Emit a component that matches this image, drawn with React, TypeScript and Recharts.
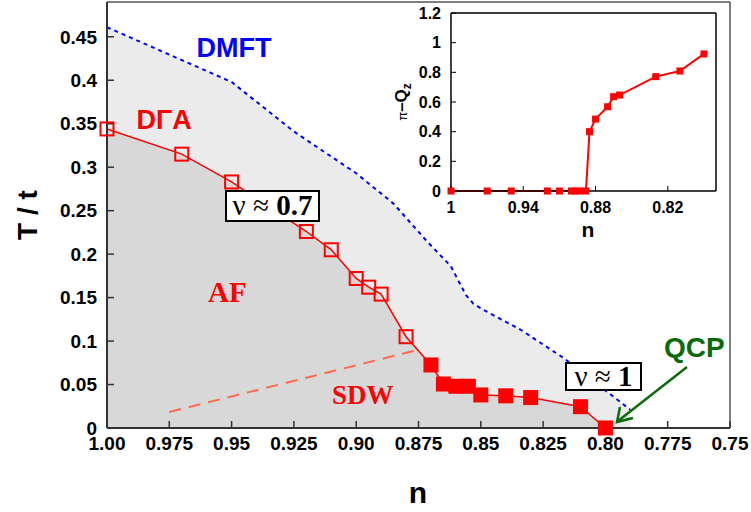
import { Area, CartesianGrid, ComposedChart, Line, LineChart, ReferenceLine, XAxis, YAxis } from "recharts"

const SANS = "'Liberation Sans', Arial, Helvetica, sans-serif"
const SERIF = "'Liberation Serif', 'Times New Roman', serif"

// main panel axes
const xTicks = [1, 0.975, 0.95, 0.925, 0.9, 0.875, 0.85, 0.825, 0.8, 0.775, 0.75]
const xTickLabels = ["1.00", "0.975", "0.95", "0.925", "0.90", "0.875", "0.85", "0.825", "0.80", "0.775", "0.75"]
const yTicks = [0, 0.05, 0.1, 0.15, 0.2, 0.25, 0.3, 0.35, 0.4, 0.45]
const yTickLabels = ["0", "0.05", "0.1", "0.15", "0.2", "0.25", "0.3", "0.35", "0.4", "0.45"]

// DMFT transition line
const dmftN = [1.0, 0.95, 0.925, 0.9, 0.885, 0.872, 0.862, 0.856, 0.853, 0.849, 0.834, 0.8165, 0.79]
const dmftT = [0.461, 0.398, 0.341, 0.293, 0.258, 0.216, 0.186, 0.153, 0.143, 0.136, 0.113, 0.08, 0.021]

// DGA transition line: AF points (open) and SDW points (filled)
const afN = [1.0, 0.97, 0.95, 0.92, 0.91, 0.9, 0.895, 0.89, 0.88]
const afT = [0.344, 0.315, 0.283, 0.226, 0.205, 0.172, 0.162, 0.154, 0.105]
const sdwN = [0.87, 0.865, 0.86, 0.855, 0.85, 0.84, 0.83, 0.81, 0.8]
const sdwT = [0.0725, 0.0506, 0.048, 0.048, 0.038, 0.037, 0.035, 0.0245, 0]

// AF / SDW crossover
const crossN = [0.975, 0.875]
const crossT = [0.0184, 0.09]

// inset: pi - Q_z vs n
const insetN = [1.0, 0.97, 0.95, 0.92, 0.91, 0.9, 0.897, 0.893, 0.888, 0.885, 0.88, 0.87, 0.865, 0.86, 0.83, 0.81, 0.79]
const insetQ = [0, 0, 0, 0, 0, 0, 0, 0, 0, 0.4, 0.485, 0.568, 0.636, 0.647, 0.771, 0.809, 0.924]
const insetXTicks = [1, 0.94, 0.88, 0.82]
const insetXLabels = ["1", "0.94", "0.88", "0.82"]
const insetYTicks = [0, 0.2, 0.4, 0.6, 0.8, 1, 1.2]
const insetYLabels = ["0", "0.2", "0.4", "0.6", "0.8", "1", "1.2"]

const pts = (ns: number[], vs: number[], key = "T") => ns.map((n, i) => ({ n, [key]: vs[i] }))

const dmftData = pts(dmftN, dmftT)
const afData = pts(afN, afT)
const sdwData = pts(sdwN, sdwT)
const dgaData = [...afData, ...sdwData]
const crossData = pts(crossN, crossT)
const insetData = pts(insetN, insetQ, "q")

const RED = "#ff0000"
const GREEN = "#0b6b0b"

const openSquare = (p: any) => (
  <rect key={`o${p.index}`} x={p.cx - 6.5} y={p.cy - 6.5} width={13} height={13} fill="none" stroke={RED} strokeWidth={2} />
)
const filledSquare = (p: any) => (
  <rect key={`f${p.index}`} x={p.cx - 7.5} y={p.cy - 7.5} width={15} height={15} fill={RED} />
)
const smallSquare = (p: any) => (
  <rect key={`s${p.index}`} x={p.cx - 3.5} y={p.cy - 3.5} width={7} height={7} fill={RED} />
)

const tickStyle = (size: number) => ({ fill: "#000", fontSize: size, fontWeight: 700, fontFamily: SANS })

function MainChart() {
  return (
    <ComposedChart width={751} height={512} margin={{ top: 2, right: 21, left: 0, bottom: 0 }}>
      <XAxis
        dataKey="n"
        type="number"
        domain={[0.75, 1]}
        reversed
        ticks={xTicks}
        interval={0}
        tickFormatter={(v) => xTickLabels[xTicks.indexOf(v)]}
        height={84}
        tickSize={-7}
        tickMargin={16}
        axisLine={{ stroke: "#333", strokeWidth: 2 }}
        tickLine={{ stroke: "#333", strokeWidth: 1.5 }}
        tick={tickStyle(19)}
      />
      <YAxis
        type="number"
        domain={[0, 0.49]}
        ticks={yTicks}
        interval={0}
        tickFormatter={(v) => yTickLabels[yTicks.indexOf(v)]}
        width={107}
        tickSize={-7}
        tickMargin={17}
        axisLine={{ stroke: "#333", strokeWidth: 2 }}
        tickLine={{ stroke: "#333", strokeWidth: 1.5 }}
        tick={tickStyle(19)}
      />
      <Area data={dmftData} dataKey="T" type="linear" fill="#ebebeb" fillOpacity={1} stroke="none" isAnimationActive={false} />
      <Area data={dgaData} dataKey="T" type="linear" fill="#d8d8d8" fillOpacity={1} stroke="none" isAnimationActive={false} />
      <ReferenceLine y={0.49} stroke="#000" strokeWidth={1} />
      <ReferenceLine x={0.75} stroke="#000" strokeWidth={1} />
      <Line data={crossData} dataKey="T" type="linear" stroke="#ff6a50" strokeWidth={2} strokeDasharray="12 8" dot={false} isAnimationActive={false} />
      <Line data={dmftData} dataKey="T" type="linear" stroke="#0000ff" strokeWidth={2} strokeDasharray="4 4" dot={false} isAnimationActive={false} />
      <Line data={dgaData} dataKey="T" type="linear" stroke={RED} strokeWidth={1.5} dot={false} isAnimationActive={false} />
      <Line data={afData} dataKey="T" stroke="none" dot={openSquare} activeDot={false} isAnimationActive={false} />
      <Line data={sdwData} dataKey="T" stroke="none" dot={filledSquare} activeDot={false} isAnimationActive={false} />
    </ComposedChart>
  )
}

function InsetChart() {
  return (
    <LineChart width={345} height={245} margin={{ top: 13, right: 9, left: 0, bottom: 0 }}>
      <CartesianGrid horizontal={false} vertical={false} fill="#fff" />
      <XAxis
        dataKey="n"
        type="number"
        domain={[0.78, 1]}
        reversed
        ticks={insetXTicks}
        interval={0}
        tickFormatter={(v) => insetXLabels[insetXTicks.indexOf(v)]}
        height={54}
        tickSize={-5}
        tickMargin={16}
        axisLine={{ stroke: "#000", strokeWidth: 1.5 }}
        tickLine={{ stroke: "#000" }}
        tick={tickStyle(16)}
      />
      <YAxis
        type="number"
        domain={[0, 1.2]}
        ticks={insetYTicks}
        interval={0}
        tickFormatter={(v) => insetYLabels[insetYTicks.indexOf(v)]}
        width={71}
        tickSize={-5}
        tickMargin={15}
        axisLine={{ stroke: "#000", strokeWidth: 1.5 }}
        tickLine={{ stroke: "#000" }}
        tick={tickStyle(16)}
      />
      <ReferenceLine y={1.2} stroke="#000" strokeWidth={1.5} />
      <ReferenceLine x={0.78} stroke="#000" strokeWidth={1.5} />
      <Line data={insetData} dataKey="q" type="linear" stroke={RED} strokeWidth={2} dot={smallSquare} activeDot={false} isAnimationActive={false} />
    </LineChart>
  )
}

function Annotations() {
  return (
    <svg width={751} height={512} style={{ position: "absolute", left: 0, top: 0, pointerEvents: "none" }}>
      <text x={196.5} y={57} fontFamily={SANS} fontWeight={700} fontSize={27} fill="#0000ff">DMFT</text>
      <text x={136.5} y={129} fontFamily={SANS} fontWeight={700} fontSize={27} fill={RED}>DΓA</text>
      <text x={208} y={302} fontFamily={SERIF} fontWeight={700} fontSize={29} fill={RED}>AF</text>
      <text x={332} y={404} fontFamily={SERIF} fontWeight={700} fontSize={27} fill={RED}>SDW</text>

      <rect x={226} y={191} width={93} height={30} fill="#fff" stroke="#000" strokeWidth={2} />
      <text x={272.5} y={215} textAnchor="middle" fontFamily={SERIF} fontSize={29} fill="#000">
        ν ≈ <tspan fontWeight={700}>0.7</tspan>
      </text>
      <rect x={566} y={363} width={75} height={27} fill="#fff" stroke="#000" strokeWidth={2} />
      <text x={603.5} y={386} textAnchor="middle" fontFamily={SERIF} fontSize={29} fill="#000">
        ν ≈ <tspan fontWeight={700}>1</tspan>
      </text>

      <text x={664} y={357} fontFamily={SANS} fontWeight={700} fontSize={28} fill={GREEN}>QCP</text>
      <line x1={687} y1={367} x2={618} y2={421} stroke={GREEN} strokeWidth={2.5} />
      <polyline points="620,407 617,422 633,418" fill="none" stroke={GREEN} strokeWidth={2.5} />

      <text transform="translate(37,215) rotate(-90)" textAnchor="middle" fontFamily={SANS} fontWeight={700} fontSize={28} fill="#000">T / t</text>
      <text x={418} y={503} textAnchor="middle" fontFamily={SANS} fontWeight={700} fontSize={30} fill="#000">n</text>

      <text x={588} y={237} textAnchor="middle" fontFamily={SANS} fontWeight={700} fontSize={21} fill="#000">n</text>
      <text transform="translate(407,102) rotate(-90)" textAnchor="middle" fontFamily={SANS} fill="#000">
        <tspan fontSize={13}>π</tspan>
        <tspan fontSize={17} fontWeight={700}>–Q</tspan>
        <tspan fontSize={12} fontWeight={700} dy={4}>z</tspan>
      </text>
    </svg>
  )
}

export default function App() {
  return (
    <div style={{ position: "absolute", left: 0, top: 0, width: 751, height: 512, background: "#fff" }}>
      <MainChart />
      <div style={{ position: "absolute", left: 380, top: 0 }}>
        <InsetChart />
      </div>
      <Annotations />
    </div>
  )
}
